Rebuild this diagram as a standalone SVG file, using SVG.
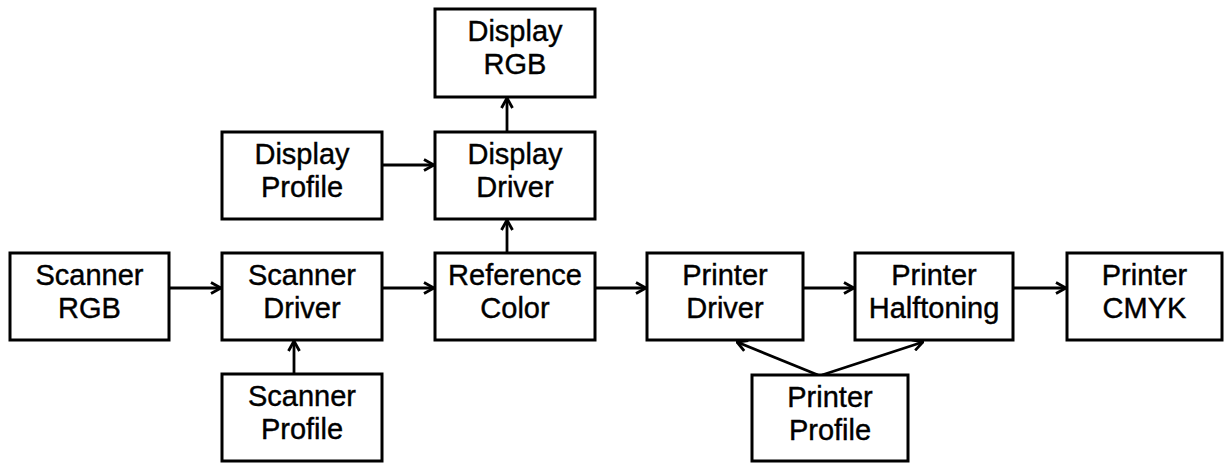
<svg xmlns="http://www.w3.org/2000/svg" width="1225" height="463" viewBox="0 0 1225 463">
<defs>
<marker id="ah" viewBox="0 0 14 14" refX="13" refY="7" markerWidth="14" markerHeight="14" markerUnits="userSpaceOnUse" orient="auto">
<path d="M3,1.5 L13,7 L3,12.5" fill="none" stroke="#000" stroke-width="2.8" stroke-linejoin="miter"/>
</marker>
<style>
.box{fill:#fff;stroke:#000;stroke-width:3}
.lbl{font-family:"Liberation Sans",Arial,sans-serif;font-size:29px;fill:#000;stroke:#000;stroke-width:0.4;text-anchor:middle}
.con{stroke:#000;stroke-width:2.8;fill:none;marker-end:url(#ah)}
</style>
</defs>
<rect width="1225" height="463" fill="#fff"/>
<g id="connectors">
<line class="con" x1="169" y1="288" x2="221" y2="288"/>
<line class="con" x1="382" y1="288" x2="434" y2="288"/>
<line class="con" x1="595" y1="288" x2="646" y2="288"/>
<line class="con" x1="803" y1="288" x2="854" y2="288"/>
<line class="con" x1="1013" y1="288" x2="1066" y2="288"/>
<line class="con" x1="294" y1="374" x2="294" y2="341"/>
<line class="con" x1="507" y1="253" x2="507" y2="220"/>
<line class="con" x1="507" y1="132" x2="507" y2="98"/>
<line class="con" x1="382" y1="165" x2="434" y2="165"/>
<line class="con" x1="818" y1="375" x2="737" y2="342"/>
<line class="con" x1="822" y1="375" x2="923" y2="342"/>
</g>
<g id="scanner-rgb"><rect class="box" x="10" y="253" width="159" height="87"/><text class="lbl" x="89.5" y="285">Scanner</text><text class="lbl" x="89.5" y="318">RGB</text></g>
<g id="scanner-driver"><rect class="box" x="222" y="253" width="160" height="87"/><text class="lbl" x="302" y="285">Scanner</text><text class="lbl" x="302" y="318">Driver</text></g>
<g id="scanner-profile"><rect class="box" x="222" y="374" width="160" height="87"/><text class="lbl" x="302" y="406">Scanner</text><text class="lbl" x="302" y="439">Profile</text></g>
<g id="reference-color"><rect class="box" x="435" y="253" width="160" height="87"/><text class="lbl" x="515" y="285">Reference</text><text class="lbl" x="515" y="318">Color</text></g>
<g id="display-profile"><rect class="box" x="222" y="132" width="160" height="87"/><text class="lbl" x="302" y="164">Display</text><text class="lbl" x="302" y="197">Profile</text></g>
<g id="display-driver"><rect class="box" x="435" y="132" width="160" height="87"/><text class="lbl" x="515" y="164">Display</text><text class="lbl" x="515" y="197">Driver</text></g>
<g id="display-rgb"><rect class="box" x="435" y="9" width="160" height="88"/><text class="lbl" x="515" y="41">Display</text><text class="lbl" x="515" y="74">RGB</text></g>
<g id="printer-driver"><rect class="box" x="647" y="253" width="156" height="87"/><text class="lbl" x="725" y="285">Printer</text><text class="lbl" x="725" y="318">Driver</text></g>
<g id="printer-halftoning"><rect class="box" x="855" y="253" width="158" height="87"/><text class="lbl" x="934" y="285">Printer</text><text class="lbl" x="934" y="318">Halftoning</text></g>
<g id="printer-cmyk"><rect class="box" x="1067" y="253" width="155" height="87"/><text class="lbl" x="1144.5" y="285">Printer</text><text class="lbl" x="1144.5" y="318">CMYK</text></g>
<g id="printer-profile"><rect class="box" x="752" y="375" width="156" height="86"/><text class="lbl" x="830" y="407">Printer</text><text class="lbl" x="830" y="440">Profile</text></g>
</svg>
